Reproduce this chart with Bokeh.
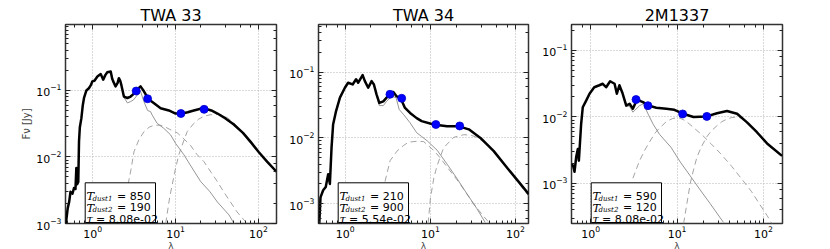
from bokeh.plotting import figure
from bokeh.models import LogAxis, Range1d, Label, BoxAnnotation, LogTicker, CustomJSTickFormatter
from bokeh.layouts import row
from bokeh.embed import file_html
from bokeh.resources import INLINE

# ---------------- data ----------------
TITLES = ["TWA 33", "TWA 34", "2M1337"]
WISE_WL = [3.35, 4.6, 11.6, 22.1]

TWA33_PTS = [0.098, 0.075, 0.045, 0.052]
TWA34_PTS = [0.046, 0.040, 0.016, 0.0152]
M1337_PTS = [0.0183, 0.0148, 0.0111, 0.0102]

TWA33_TOT_WL = [0.475, 0.50, 0.52, 0.54, 0.57, 0.595, 0.62, 0.635, 0.65, 0.67,
                0.684, 0.70, 0.73, 0.76, 0.786, 0.84, 0.90, 0.95, 0.99, 1.05,
                1.14, 1.25, 1.34, 1.42, 1.50, 1.65, 1.72, 1.77, 1.89, 2.0,
                2.07, 2.15, 2.22, 2.38, 2.62, 2.87, 3.1, 3.35, 3.78, 4.15,
                4.6, 5.0, 5.5, 6.6, 8.3, 10, 12, 14, 16.6, 20,
                23, 27, 32, 40, 50, 65, 80, 100, 127, 165]
TWA33_TOT_F = [0.0010, 0.0017, 0.0021, 0.0030, 0.0028, 0.0034, 0.0033, 0.0068, 0.0039, 0.0042,
               0.017, 0.028, 0.038, 0.060, 0.077, 0.100, 0.108, 0.120, 0.137, 0.140,
               0.162, 0.176, 0.145, 0.170, 0.188, 0.193, 0.150, 0.137, 0.115, 0.130,
               0.153, 0.140, 0.120, 0.081, 0.077, 0.081, 0.088, 0.100, 0.115, 0.097,
               0.078, 0.070, 0.064, 0.054, 0.050, 0.045, 0.045, 0.047, 0.050, 0.053,
               0.053, 0.050, 0.045, 0.038, 0.031, 0.023, 0.017, 0.012, 0.0085, 0.0060]
TWA33_PH_WL = [2.22, 2.38, 2.62, 2.87, 3.1, 3.35, 3.78, 4.15, 4.6, 5.0, 5.2, 6.0, 7.2, 8.7,
               10, 12.6, 15, 20, 26, 32, 44, 52]
TWA33_PH_F = [0.118, 0.079, 0.065, 0.068, 0.072, 0.081, 0.097, 0.068, 0.050, 0.048, 0.043,
              0.032, 0.027, 0.0215, 0.016, 0.0108, 0.0076, 0.0043, 0.0030, 0.0021, 0.00135, 0.00095]
TWA33_D1_WL = [2.17, 2.4, 2.62, 2.9, 3.15, 3.6, 4.15, 4.8, 5.5, 6.5, 7.2, 8.5, 10.5, 13,
               15.1, 18, 22, 27, 31.8, 38, 46, 55, 66, 76]
TWA33_D1_F = [0.001, 0.0019, 0.0034, 0.0065, 0.012, 0.018, 0.024, 0.028, 0.030, 0.030,
              0.029, 0.026, 0.023, 0.018, 0.015, 0.011, 0.0085, 0.0058, 0.0043, 0.003,
              0.0021, 0.0015, 0.00115, 0.00095]
TWA33_D2_WL = [7.6, 8.5, 10, 11, 12, 13.8, 16.6, 19, 22, 26, 31.8, 37, 42, 50, 66, 80, 105, 130, 165]
TWA33_D2_F = [0.001, 0.0025, 0.0068, 0.011, 0.015, 0.024, 0.032, 0.037, 0.041, 0.043, 0.044,
              0.042, 0.039, 0.033, 0.022, 0.016, 0.011, 0.0085, 0.0062]

TWA34_TOT_WL = [0.495, 0.512, 0.55, 0.59, 0.63, 0.66, 0.69, 0.72, 0.78, 0.866,
                0.99, 1.08, 1.22, 1.34, 1.42, 1.6, 1.7, 1.86, 2.04, 2.17,
                2.33, 2.51, 2.8, 3.06, 3.3, 3.67, 4.0, 4.47, 5.0, 5.77,
                6.9, 7.9, 10.9, 15.7, 21.6, 28.3, 38.7, 55.5, 80, 114, 143]
TWA34_TOT_F = [0.00049, 0.00125, 0.0016, 0.0018, 0.0028, 0.0020, 0.0071, 0.016, 0.0256, 0.041,
               0.058, 0.069, 0.065, 0.078, 0.069, 0.090, 0.073, 0.058, 0.073, 0.065,
               0.046, 0.034, 0.036, 0.041, 0.046, 0.050, 0.043, 0.040, 0.029, 0.024,
               0.020, 0.018, 0.016, 0.015, 0.015, 0.0135, 0.010, 0.0063, 0.0035, 0.0020, 0.0014]
TWA34_PH_WL = [2.17, 2.33, 2.51, 2.8, 3.06, 3.5, 3.95, 4.3, 4.8, 5.77, 6.9, 7.9, 9.2, 12,
               15.7, 20.6, 27, 35, 44]
TWA34_PH_F = [0.063, 0.044, 0.031, 0.031, 0.036, 0.043, 0.041, 0.027, 0.023, 0.017, 0.012,
              0.0105, 0.009, 0.0065, 0.004, 0.0024, 0.0014, 0.00085, 0.00052]
TWA34_D1_WL = [2.36, 2.83, 3.36, 4.05, 4.8, 5.5, 6.9, 8.3, 9.1, 11, 13, 16, 20.6, 26, 32, 40, 48.5]
TWA34_D1_F = [0.00055, 0.0018, 0.0045, 0.0063, 0.0076, 0.0086, 0.0089, 0.0088, 0.0080, 0.0064,
              0.005, 0.0035, 0.0023, 0.0015, 0.0010, 0.0007, 0.00052]
TWA34_D2_WL = [9.4, 10, 11, 12, 14.3, 18.8, 24.7, 30, 35, 45, 55, 80, 114, 143]
TWA34_D2_F = [0.0005, 0.0012, 0.0025, 0.0038, 0.0071, 0.0102, 0.0112, 0.011, 0.0102, 0.0082,
              0.0062, 0.0034, 0.0019, 0.0013]

M1337_TOT_WL = [0.6, 0.63, 0.65, 0.68, 0.71, 0.73, 0.776, 0.81, 0.89, 0.97,
                1.1, 1.26, 1.38, 1.51, 1.68, 1.89, 2.01, 2.15, 2.32, 2.58,
                2.82, 3.08, 3.43, 4.03, 4.72, 5.74, 7.5, 9.3, 11.7, 15.5,
                22, 29, 37.8, 49.5, 64.5, 84, 110, 164]
M1337_TOT_F = [0.002, 0.0018, 0.0015, 0.0025, 0.0033, 0.0022, 0.0079, 0.014, 0.0178, 0.0224,
               0.028, 0.030, 0.0316, 0.028, 0.0345, 0.0316, 0.0224, 0.030, 0.0234, 0.0148,
               0.0158, 0.0133, 0.0182, 0.0167, 0.0148, 0.0138, 0.0133, 0.0128, 0.0112, 0.0100,
               0.0102, 0.0114, 0.0123, 0.0112, 0.0083, 0.0059, 0.0040, 0.0026]
M1337_PH_WL = [2.32, 2.58, 2.82, 3.08, 3.68, 4.1, 4.6, 5.25, 6.25, 7.5, 8.5, 10.9, 14.2, 18.5,
               24.1, 34.4]
M1337_PH_F = [0.0234, 0.0148, 0.0145, 0.0118, 0.0148, 0.0158, 0.0112, 0.0079, 0.0055, 0.0042,
              0.0035, 0.0021, 0.0013, 0.0008, 0.0005, 0.00026]
M1337_D1_WL = [3.08, 3.68, 4.3, 4.8, 5.6, 6.25, 7.5, 8.9, 10.4, 12.5, 15, 20, 25, 32, 43, 58,
               73, 91, 110, 125]
M1337_D1_F = [0.0012, 0.0022, 0.0033, 0.0042, 0.0058, 0.0068, 0.0085, 0.0095, 0.0098, 0.0088,
              0.0072, 0.0052, 0.0039, 0.0028, 0.0018, 0.0011, 0.00075, 0.00048, 0.00033, 0.00025]
M1337_D2_WL = [11.9, 13, 14.2, 15.5, 17, 19, 22, 25, 29, 33, 37.8, 43, 49.5, 57, 64.5, 75, 84,
               100, 120, 140, 164]
M1337_D2_F = [0.00025, 0.0005, 0.001, 0.0016, 0.0025, 0.0035, 0.005, 0.0062, 0.0074, 0.0085,
              0.0093, 0.0098, 0.01, 0.0095, 0.0083, 0.0068, 0.0057, 0.0045, 0.0035, 0.003, 0.0025]

TDUST1 = ["850", "210", "590"]
TDUST2 = ["190", "900", "120"]
TAU = ["8.08e-02", "5.54e-02", "8.08e-02"]

X_RANGES = [(0.47, 165), (0.485, 142), (0.6, 166)]
Y_RANGES = [(1e-3, 0.98), (5e-4, 0.53), (2.5e-4, 0.246)]

SERIES = [
    (TWA33_TOT_WL, TWA33_TOT_F, TWA33_PH_WL, TWA33_PH_F, TWA33_D1_WL, TWA33_D1_F, TWA33_D2_WL, TWA33_D2_F, TWA33_PTS),
    (TWA34_TOT_WL, TWA34_TOT_F, TWA34_PH_WL, TWA34_PH_F, TWA34_D1_WL, TWA34_D1_F, TWA34_D2_WL, TWA34_D2_F, TWA34_PTS),
    (M1337_TOT_WL, M1337_TOT_F, M1337_PH_WL, M1337_PH_F, M1337_D1_WL, M1337_D1_F, M1337_D2_WL, M1337_D2_F, M1337_PTS),
]

FRAME_W = [211, 210, 211]
BORDER_L = [65, 35, 35]
BORDER_R = [7, 8, 8]

SANS = "DejaVu Sans"
SERIF = "DejaVu Serif"


def style_axis(ax, show_labels):
    ax.axis_line_color = None
    ax.major_tick_in = 5
    ax.major_tick_out = 0
    ax.minor_tick_in = 3
    ax.minor_tick_out = 0
    ax.major_tick_line_color = "#222222"
    ax.minor_tick_line_color = "#222222"
    ax.major_label_text_font = SANS
    ax.major_label_text_font_size = "11px"
    ax.major_label_text_color = "black"
    if not show_labels:
        ax.formatter = CustomJSTickFormatter(code="return ''")
        ax.major_label_standoff = 0


panels = []
for i in range(3):
    tw, tf, pw, pf, d1w, d1f, d2w, d2f, pts = SERIES[i]
    p = figure(x_axis_type="log", y_axis_type="log",
               x_range=Range1d(*X_RANGES[i]), y_range=Range1d(*Y_RANGES[i]),
               frame_width=FRAME_W[i], frame_height=199,
               output_backend="svg", toolbar_location=None,
               min_border_left=BORDER_L[i], min_border_right=BORDER_R[i],
               min_border_top=24, min_border_bottom=0)
    p.title.text = TITLES[i]
    p.title.align = "center"
    p.title.text_font = SANS
    p.title.text_font_size = "16px"
    p.title.text_font_style = "normal"
    p.title.text_color = "black"
    p.title.standoff = 0
    p.background_fill_color = "white"
    p.border_fill_color = "white"
    p.outline_line_color = "#333333"
    p.outline_line_width = 1.5

    p.grid.grid_line_color = "#b5b5b5"
    p.grid.grid_line_dash = "1 2"
    p.grid.grid_line_width = 1

    style_axis(p.xaxis[0], True)
    style_axis(p.yaxis[0], True)
    p.xaxis[0].major_label_standoff = 2
    p.xaxis[0].axis_label = "λ"
    p.xaxis[0].axis_label_text_font = SANS
    p.xaxis[0].axis_label_text_font_style = "normal"
    p.xaxis[0].axis_label_text_font_size = "9px"
    p.xaxis[0].axis_label_standoff = 0
    p.yaxis[0].major_label_standoff = 4
    if i == 0:
        p.yaxis[0].axis_label = "Fν [Jy]"
        p.yaxis[0].axis_label_text_font = SANS
        p.yaxis[0].axis_label_text_font_style = "normal"
        p.yaxis[0].axis_label_text_font_size = "10px"
        p.yaxis[0].axis_label_standoff = 1

    right = LogAxis(ticker=LogTicker())
    style_axis(right, False)
    p.add_layout(right, "right")
    top = LogAxis(ticker=LogTicker())
    style_axis(top, False)
    p.add_layout(top, "above")

    p.line(d1w, d1f, line_color="#999999", line_width=0.9, line_dash="6 4")
    p.line(d2w, d2f, line_color="#999999", line_width=0.9, line_dash="6 4")
    p.line(pw, pf, line_color="#8a8a8a", line_width=0.9)
    p.line(tw, tf, line_color="black", line_width=2.5, line_join="round")
    p.scatter(WISE_WL, pts, size=8, fill_color="#0000ff", line_color="#0000cc", line_width=0.8)

    # annotation box (screen units relative to the frame)
    box = BoxAnnotation(left=19.7, right=90, bottom=1, top=40.7,
                        left_units="screen", right_units="screen",
                        bottom_units="screen", top_units="screen",
                        fill_color="white", fill_alpha=1.0,
                        line_color="black", line_width=1, line_alpha=1.0)
    p.add_layout(box)
    for yb, sub, val in [(27.3, "dust1", TDUST1[i]), (15.9, "dust2", TDUST2[i])]:
        p.add_layout(Label(x=21, y=yb, x_units="screen", y_units="screen", text="T",
                           text_font=SERIF, text_font_style="italic", text_color="black",
                           text_font_size="11.5px", text_baseline="alphabetic"))
        p.add_layout(Label(x=27, y=yb - 2.6, x_units="screen", y_units="screen", text=sub,
                           text_font=SERIF, text_font_style="italic", text_color="black",
                           text_font_size="7px", text_baseline="alphabetic"))
        p.add_layout(Label(x=51.5, y=yb, x_units="screen", y_units="screen", text="= " + val,
                           text_font=SANS, text_font_size="11px", text_color="black",
                           text_baseline="alphabetic"))
    p.add_layout(Label(x=21, y=4.4, x_units="screen", y_units="screen", text="τ",
                       text_font=SERIF, text_font_style="italic", text_color="black",
                       text_font_size="11.5px", text_baseline="alphabetic"))
    p.add_layout(Label(x=30.5, y=4.4, x_units="screen", y_units="screen", text="= " + TAU[i],
                       text_font=SANS, text_font_size="11px", text_color="black",
                       text_baseline="alphabetic"))
    panels.append(p)

layout = row(*panels)
open("out.html", "w").write(file_html(layout, INLINE))
